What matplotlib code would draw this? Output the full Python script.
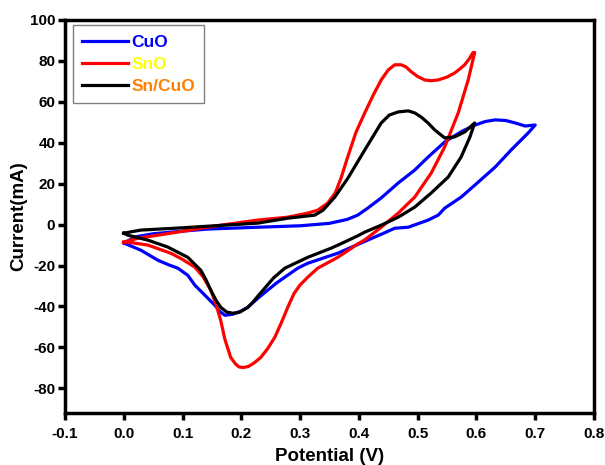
import numpy as np
import matplotlib.pyplot as plt

plt.rcParams['font.family'] = ['Liberation Sans', 'DejaVu Sans']
plt.rcParams['font.weight'] = 'bold'
plt.rcParams['axes.unicode_minus'] = False

# CuO loop (potential V, current mA)
cuo_v = [0.0, 0.02, 0.05, 0.1, 0.143, 0.2, 0.228, 0.3, 0.35, 0.38, 0.398, 0.415, 0.438, 0.467,
         0.495, 0.518, 0.546, 0.575, 0.598, 0.615, 0.632, 0.65, 0.666, 0.683, 0.70,
         0.688, 0.659, 0.632, 0.603, 0.574, 0.546, 0.535, 0.518, 0.484, 0.461, 0.44, 0.415,
         0.364, 0.313, 0.296, 0.26, 0.228, 0.211, 0.2, 0.185, 0.172, 0.163, 0.155, 0.138,
         0.121, 0.109, 0.092, 0.075, 0.058, 0.029, 0.0]
cuo_i = [-9.0, -6.0, -4.5, -3.2, -2.2, -1.6, -1.3, -0.6, 0.6, 2.5, 4.6, 8.0, 13.0, 20.3,
         26.6, 33.0, 40.3, 45.5, 48.6, 50.3, 51.1, 50.8, 49.6, 48.1, 48.6,
         44.7, 36.4, 28.1, 20.7, 13.4, 8.0, 4.6, 2.2, -1.3, -1.8, -4.5, -7.6,
         -14.0, -18.9, -21.3, -28.5, -36.0, -40.4, -42.2, -43.8, -44.3, -42.3, -39.4, -34.5,
         -29.6, -24.8, -21.3, -19.5, -17.4, -12.5, -9.0]

# SnO loop
sno_v = [0.0, 0.024, 0.08, 0.143, 0.165, 0.228, 0.279, 0.313, 0.33, 0.347, 0.36, 0.37, 0.381,
         0.395, 0.41, 0.425, 0.438, 0.45, 0.461, 0.472, 0.48, 0.489, 0.50, 0.512, 0.523, 0.535,
         0.55, 0.563, 0.572, 0.58, 0.588, 0.594, 0.597,
         0.586, 0.569, 0.546, 0.523, 0.495, 0.467, 0.438, 0.41, 0.398, 0.364, 0.330,
         0.313, 0.30, 0.29, 0.279, 0.268, 0.257, 0.245, 0.233, 0.222, 0.212, 0.203, 0.196,
         0.19, 0.182, 0.172, 0.165, 0.157, 0.148, 0.135, 0.121, 0.1, 0.08, 0.041, 0.007, 0.0]
sno_i = [-8.6, -6.7, -4.2, -1.3, -0.3, 2.2, 3.6, 5.6, 7.0, 10.5, 15.5, 23.0, 33.0,
         45.0, 54.5, 63.5, 70.6, 75.5, 78.0, 78.0, 77.0, 74.6, 72.3, 70.6, 70.2, 70.6,
         72.0, 74.0, 76.0, 78.0, 81.0, 83.9, 84.0,
         70.6, 54.5, 37.9, 25.1, 13.4, 5.6, -1.3, -7.5, -9.5, -16.0, -21.3,
         -25.7, -29.5, -33.5, -40.4, -48.0, -55.0, -60.5, -64.9, -67.5, -69.3, -69.8, -69.5,
         -68.0, -64.9, -56.0, -46.8, -39.0, -32.0, -25.5, -20.8, -17.0, -14.0, -10.0, -8.6, -8.6]

# Sn/CuO loop
sncuo_v = [0.0, 0.029, 0.087, 0.143, 0.228, 0.279, 0.325, 0.339, 0.359, 0.381, 0.41, 0.438,
           0.452, 0.467, 0.484, 0.495, 0.506, 0.518, 0.529, 0.546, 0.563, 0.58, 0.597,
           0.589, 0.574, 0.552, 0.523, 0.495, 0.467, 0.438, 0.41, 0.398, 0.37, 0.353, 0.313,
           0.274, 0.255, 0.24, 0.228, 0.22, 0.211, 0.197, 0.186, 0.175, 0.165, 0.157, 0.148,
           0.14, 0.131, 0.109, 0.075, 0.041, 0.007, 0.0]
sncuo_i = [-4.2, -2.7, -1.8, -0.8, 0.7, 3.1, 4.6, 7.0, 13.4, 22.5, 36.4, 49.6,
           53.5, 55.0, 55.5, 54.5, 52.5, 49.5, 46.2, 42.3, 42.8, 45.2, 49.6,
           42.8, 33.0, 23.2, 15.4, 8.5, 3.6, -0.3, -3.7, -5.5, -9.3, -11.5, -16.0,
           -21.3, -26.0, -31.0, -35.0, -37.8, -40.4, -42.8, -43.3, -42.7, -40.4, -37.0, -32.0,
           -27.0, -22.3, -16.0, -11.0, -7.6, -5.2, -4.2]

x_ticks = [-0.1, 0.0, 0.1, 0.2, 0.3, 0.4, 0.5, 0.6, 0.7, 0.8]
y_ticks = [-80, -60, -40, -20, 0, 20, 40, 60, 80, 100]

fig = plt.figure(figsize=(6.05, 4.65), dpi=100)
ax = fig.add_axes([0.1074, 0.1118, 0.8744, 0.8458])

lw = 2.3
l1, = ax.plot(cuo_v, cuo_i, color='#0000ff', lw=lw, solid_joinstyle='round')
l2, = ax.plot(sno_v, sno_i, color='#ff0000', lw=lw, solid_joinstyle='round')
l3, = ax.plot(sncuo_v, sncuo_i, color='#000000', lw=lw, solid_joinstyle='round')

ax.set_xlim(-0.1, 0.8)
ax.set_ylim(-92, 100)
ax.set_xticks(x_ticks)
ax.set_xticklabels(['%.1f' % t for t in x_ticks])
ax.set_yticks(y_ticks)

for s in ax.spines.values():
    s.set_linewidth(2.5)
ax.tick_params(direction='out', length=5, width=2.5, labelsize=11, pad=2)
ax.tick_params(axis='x', pad=5)
for lab in ax.get_xticklabels() + ax.get_yticklabels():
    lab.set_fontweight('bold')

ax.set_xlabel('Potential (V)', fontsize=13.5, fontweight='bold', labelpad=5)
ax.set_ylabel('Current(mA)', fontsize=13.5, fontweight='bold', labelpad=2)

leg = ax.legend([l1, l2, l3], ['CuO', 'SnO', 'Sn/CuO'], loc='upper left',
                bbox_to_anchor=(0.015, 0.9865), borderaxespad=0,
                fancybox=False, framealpha=1, edgecolor='#808080',
                prop={'weight': 'bold', 'size': 12.5}, handlelength=2.65,
                labelspacing=0.4, handletextpad=0.15, borderpad=0.55)
leg.get_frame().set_linewidth(1.0)
for txt, c in zip(leg.get_texts(), ['#0000ff', '#ffff00', '#ff8000']):
    txt.set_color(c)

fig.savefig('out.png', dpi=100)
